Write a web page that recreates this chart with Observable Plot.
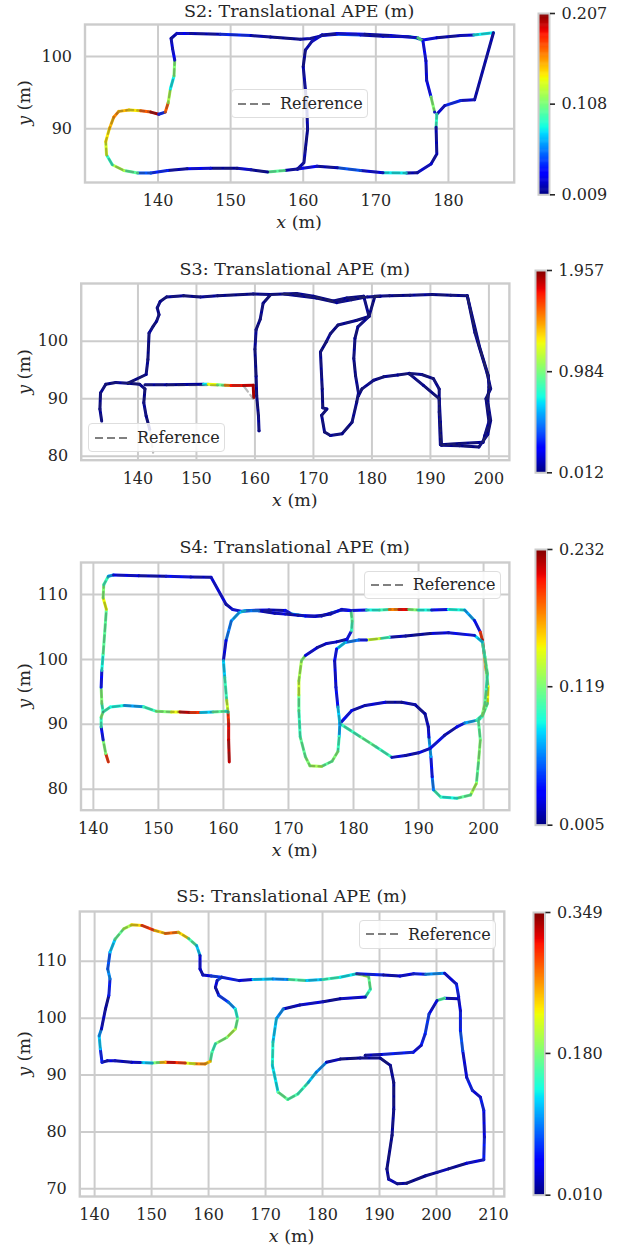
<!DOCTYPE html>
<html><head><meta charset="utf-8">
<script src="https://cdn.jsdelivr.net/npm/d3@7"></script>
<script src="https://cdn.jsdelivr.net/npm/@observablehq/plot@0.6"></script>
<style>
body{margin:0;background:#fff;}
#root{position:relative;width:622px;height:1251px;overflow:hidden;font-family:'DejaVu Serif',serif;color:#262626;background:#fff;}
.ov{position:absolute;white-space:nowrap;transform:translate(-50%,-50%);line-height:1;}
.ttl{font-size:17.5px;}
.axl{font-size:17.5px;}
.leg{position:absolute;box-sizing:border-box;border:1px solid #dedede;border-radius:4px;background:rgba(255,255,255,0.85);font-size:16px;display:flex;align-items:center;}
.leg svg{margin-left:6px;margin-right:9px;}
</style></head><body><div id="root"></div><script>
// ---------- data: trajectories [x, y, APE] ----------
const s2Path = [[159.2,84.4,0.018],[157.4,84.2,0.10],[155.1,84.0,0.013],[152.8,84.3,0.025],[150.9,84.5,0.013],[147.2,84.5,0.03],[144.0,84.45,0.018],[141.3,84.2,0.04],[139.0,83.86,0.05],[137.2,83.86,0.10],[135.3,84.2,0.12],[133.7,85.0,0.09],[132.9,86.4,0.13],[132.8,88.2,0.14],[133.3,90.0,0.15],[133.9,91.6,0.16],[134.6,92.4,0.15],[136.0,92.6,0.14],[137.6,92.5,0.17],[139.0,92.3,0.2],[140.1,92.0,0.04],[141.0,92.3,0.17],[141.4,93.6,0.12],[141.7,95.5,0.08],[142.2,97.3,0.11],[142.3,99.5,0.03],[142.0,101.1,0.025],[141.8,102.5,0.018],[142.6,103.2,0.03],[144.5,103.2,0.018],[148.6,103.1,0.04],[152.8,102.9,0.018],[155.5,102.7,0.013],[159.6,102.4,0.018],[161.0,102.5,0.018],[162.6,102.9,0.025],[164.7,103.1,0.05],[167.9,103.0,0.018],[171.0,102.8,0.03],[174.7,102.75,0.09],[175.8,102.5,0.025],[176.5,102.3,0.03],[178.4,102.6,0.018],[181.7,102.9,0.025],[183.5,103.0,0.08],[186.2,103.3,0.018],[183.6,94.0,0.025],[181.7,93.9,0.04],[179.5,93.2,0.025],[178.4,92.0,0.09],[178.3,90.2,0.018],[178.4,86.5,0.018],[177.6,85.1,0.025],[175.7,83.9,0.018],[174.2,83.85,0.08],[171.0,83.9,0.025],[167.9,84.2,0.05],[164.7,84.6,0.018],[161.9,84.8,0.03],[159.2,84.4,0.018],[160.1,85.3,0.018],[160.3,87.2,0.013],[160.6,89.9,0.018],[160.5,92.7,0.013],[160.3,95.4,0.018],[160.0,98.6,0.013],[160.3,100.9,0.018],[161.2,102.1,0.025],[162.6,103.0,0.018],[164.7,103.2,0.03],[168.5,103.1,0.018],[172.0,102.9,0.025],[175.8,102.6,0.1],[176.5,102.1,0.03],[176.9,99.4,0.025],[177.0,96.7,0.03],[177.6,94.4,0.11],[178.1,92.3,0.03]];

const s3Hook = [[133.8,86.1,0.05],[133.5,88.2,0.03],[133.6,91.0,0.05],[134.5,92.5,0.03],[136.2,92.8,0.06],[138.3,92.7,0.03],[140.3,92.5,0.05],[141.2,91.7,0.03],[141.0,89.3,0.06],[141.4,87.0,0.03],[142.0,84.7,0.08]];
const s3Main = [[138.3,92.7,0.03],[141.4,94.2,0.05],[141.7,96.8,0.03],[141.9,101.4,0.06],[142.6,102.6,0.03],[143.2,103.5,0.05],[143.6,104.6,0.03],[143.3,105.8,0.06],[143.8,106.9,0.03],[144.9,107.7,0.05],[147.8,107.9,0.03],[150.7,107.7,0.06],[153.6,107.9,0.03],[159.7,108.2,0.05],[162.6,108.1,0.03],[167.1,108.3,0.06],[170.0,107.8,0.03],[173.4,107.0,0.05],[175.7,107.5,0.03],[178.6,107.8,0.06],[179.5,104.3,0.03],[177.3,103.6,0.05],[174.2,102.8,0.03],[172.9,101.3,0.06],[172.2,99.9,0.03],[171.2,98.1,0.05],[171.5,91.7,0.03],[171.6,88.4,0.06],[172.3,88.2,0.03],[171.4,87.1,0.05],[171.9,84.2,0.03],[172.9,83.6,0.06],[174.9,83.9,0.03],[176.6,85.9,0.05],[177.4,89.4,0.03],[177.7,91.0,0.06],[177.2,94.0,0.03],[176.9,97.0,0.05],[177.1,100.5,0.03],[177.6,102.5,0.06],[179.5,104.3,0.03],[180.5,107.8,0.05],[183.0,107.9,0.03],[186.5,108.0,0.06],[190.3,108.1,0.03],[193.5,108.0,0.05],[196.3,107.9,0.03],[197.6,101.5,0.06],[199.7,94.4,0.03],[200.3,91.7,0.05],[199.5,90.0,0.03],[200.0,86.0,0.06],[199.3,83.6,0.03],[199.0,82.4,0.05],[195.0,82.2,0.03],[191.7,82.0,0.06],[191.5,87.7,0.03],[191.5,91.7,0.05],[190.5,93.5,0.03],[188.5,94.2,0.06],[186.4,94.4,0.03],[184.4,94.1,0.05],[182.0,93.8,0.03],[180.3,93.2,0.06],[178.3,91.7,0.03],[177.7,90.5,0.05]];
const s3Right = [[196.3,107.9,0.05],[198.4,99.0,0.03],[199.9,94.0,0.06],[200.0,92.0,0.03],[199.8,89.5,0.05],[200.3,86.2,0.03],[199.8,83.8,0.06],[198.3,81.6,0.03],[195.0,81.8,0.05],[191.9,81.9,0.03],[191.7,86.0,0.06],[191.5,90.0,0.03],[188.8,92.3,0.05],[186.4,94.3,0.03]];
const s3Top = [[165.0,108.2,0.05],[170.5,107.5,0.03],[174.0,106.7,0.06],[176.5,107.2,0.03],[179.2,107.7,0.05],[181.4,107.8,0.03]];
const s3Horiz = [[141.2,92.4,0.05],[144.9,92.4,0.03],[148.0,92.45,0.06],[151.2,92.5,0.7],[152.0,92.5,1.25],[153.6,92.4,0.95],[154.9,92.35,1.5],[155.9,92.3,1.75],[158.0,92.3,1.85],[159.7,92.35,1.9],[159.8,90.2,1.9]];
const s3Vert = [[162.6,108.0,0.03],[161.4,106.6,0.05],[160.9,103.8,0.03],[160.2,102.0,0.06],[160.0,98.6,0.03],[160.2,93.9,0.05],[160.3,90.5,0.03],[160.6,87.0,0.06],[160.7,84.4,0.03]];
const s3RefHoriz = [[141.2,92.4],[158.0,92.3],[159.7,90.0]];
const s3RefTail = [[142.0,84.7],[142.6,80.6]];

const s4Main = [[142.3,84.2,0.2],[141.9,85.5,0.12],[141.5,87.6,0.035],[141.2,89.6,0.1],[141.2,91.1,0.12],[141.5,91.9,0.1],[141.3,93.2,0.12],[141.2,95.7,0.035],[141.3,98.3,0.09],[141.5,100.8,0.11],[141.8,104.9,0.11],[142.0,107.7,0.15],[141.5,109.5,0.12],[141.6,111.5,0.1],[142.3,112.8,0.07],[143.1,113.0,0.025],[147.0,112.9,0.018],[151.2,112.8,0.035],[155.0,112.7,0.018],[158.1,112.65,0.025],[159.4,110.3,0.025],[160.4,108.5,0.018],[161.4,107.7,0.035],[162.9,107.4,0.018],[164.2,107.55,0.025],[167.0,107.6,0.018],[169.5,107.55,0.035],[170.5,107.0,0.08],[172.6,106.7,0.025],[175.1,106.7,0.018],[176.7,107.2,0.06],[178.2,107.6,0.025],[179.6,107.55,0.035],[182.0,107.6,0.09],[184.0,107.6,0.1],[185.5,107.7,0.18],[187.0,107.7,0.21],[188.5,107.7,0.12],[190.0,107.6,0.09],[192.0,107.6,0.035],[194.6,107.7,0.09],[197.1,107.6,0.07],[198.6,106.0,0.035],[199.5,104.2,0.2],[199.8,103.0,0.22],[200.1,100.9,0.18],[200.4,98.3,0.12],[200.7,95.8,0.15],[200.6,93.2,0.11],[199.8,91.2,0.1],[199.2,90.6,0.11],[199.5,87.6,0.12],[199.2,84.0,0.11],[198.9,80.9,0.13],[198.0,79.1,0.11],[195.9,78.6,0.09],[193.4,78.8,0.1],[192.3,79.9,0.06],[192.1,81.9,0.035],[191.9,85.0,0.07],[191.6,88.0,0.025],[191.5,89.6,0.018],[191.0,91.6,0.012],[189.5,93.0,0.018],[187.4,93.4,0.012],[184.9,93.4,0.025],[181.8,92.9,0.018],[179.7,92.1,0.035],[177.9,90.1,0.1],[181.0,88.1,0.11],[183.5,86.5,0.1],[185.9,84.9,0.025],[188.0,85.2,0.018],[190.0,85.6,0.025],[191.8,86.3,0.035],[194.0,88.3,0.018],[195.9,89.6,0.035],[197.1,90.2,0.07],[198.9,90.6,0.1],[199.8,91.4,0.12],[200.2,93.2,0.11],[200.4,95.3,0.1],[200.6,97.8,0.11],[200.2,100.4,0.1],[199.8,102.7,0.08],[198.6,103.7,0.035],[194.6,104.1,0.025],[191.8,104.0,0.012],[188.0,103.6,0.018],[185.5,103.4,0.1],[184.0,103.2,0.14],[182.0,103.0,0.035],[180.8,103.0,0.06],[178.7,102.6,0.08],[177.4,101.6,0.035],[177.1,99.8,0.025],[177.3,95.7,0.035],[177.6,92.65,0.08],[177.9,90.1,0.07],[177.8,88.1,0.1],[177.6,85.8,0.12],[176.7,84.3,0.11],[175.1,83.5,0.13],[173.3,83.6,0.12],[172.6,85.0,0.11],[171.8,88.1,0.1],[171.6,92.1,0.11],[171.6,94.5,0.14],[171.6,96.7,0.13],[172.0,99.8,0.12],[172.6,100.6,0.025],[174.4,101.8,0.018],[175.9,102.45,0.025],[177.4,102.7,0.018],[179.0,103.1,0.035],[179.7,104.4,0.1],[179.8,105.9,0.11],[179.6,107.55,0.035],[178.2,107.7,0.025],[176.5,107.0,0.018],[174.0,106.6,0.025],[171.5,106.8,0.018],[169.5,107.0,0.025],[167.9,107.1,0.018],[165.4,107.5,0.06],[163.3,107.5,0.08],[162.4,107.2,0.07],[161.2,105.9,0.06],[160.4,102.9,0.025],[160.0,99.8,0.08],[160.2,97.2,0.1],[160.5,93.7,0.14],[160.7,91.9,0.2],[160.8,90.1,0.21],[160.8,87.6,0.22],[160.9,84.2,0.22]];
const s4Horiz = [[141.5,91.9,0.1],[142.6,92.65,0.09],[144.8,92.9,0.07],[147.7,92.7,0.1],[149.7,92.0,0.12],[152.0,91.9,0.15],[153.3,91.9,0.22],[155.0,91.8,0.2],[156.5,91.8,0.08],[158.4,91.9,0.11],[160.4,92.0,0.09],[160.7,91.9,0.1]];

const s5Loop = [[162.3,107.2,0.08],[161.5,106.6,0.04],[161.2,105.4,0.03],[161.8,104.0,0.07],[163.5,102.8,0.1],[164.7,101.6,0.14],[165.1,99.9,0.17],[164.7,98.1,0.2],[163.2,96.6,0.18],[161.2,95.5,0.15],[160.6,94.0,0.16],[160.3,92.4,0.25],[159.4,91.95,0.27],[157.5,92.0,0.22],[155.9,92.1,0.3],[154.0,92.2,0.32],[152.4,92.25,0.25],[151.2,92.2,0.18],[150.1,92.1,0.12],[148.0,92.2,0.04],[146.5,92.25,0.03],[143.6,92.5,0.04],[142.2,92.5,0.03],[141.3,92.25,0.06],[141.0,94.6,0.12],[140.8,96.9,0.1],[141.2,98.1,0.03],[141.9,101.6,0.02],[142.5,104.0,0.06],[142.7,106.9,0.1],[142.3,108.65,0.08],[142.7,111.6,0.12],[143.6,113.9,0.17],[145.1,115.7,0.2],[146.5,116.4,0.24],[148.3,116.3,0.3],[150.6,115.4,0.25],[152.4,114.9,0.28],[154.7,115.1,0.24],[156.5,114.0,0.16],[157.9,112.75,0.12],[158.5,111.0,0.04],[158.5,108.65,0.03],[159.0,107.6,0.04],[160.5,107.4,0.07],[162.3,107.2,0.08]];
const s5Main = [[162.3,107.2,0.06],[165.4,106.6,0.04],[167.8,106.8,0.12],[171.3,106.9,0.1],[174.2,106.8,0.16],[177.2,106.6,0.12],[180.1,106.8,0.15],[183.1,107.2,0.13],[186.0,107.8,0.2],[188.1,107.3,0.17],[188.4,105.1,0.15],[187.5,103.7,0.04],[183.1,103.4,0.02],[180.1,102.9,0.04],[176.0,102.3,0.03],[173.1,101.6,0.1],[171.9,99.9,0.12],[171.3,95.8,0.14],[171.2,91.7,0.13],[172.2,87.0,0.17],[173.9,85.7,0.16],[175.7,86.7,0.15],[177.5,88.7,0.12],[178.9,90.5,0.1],[180.7,92.25,0.03],[183.1,92.8,0.015],[186.6,93.0,0.02],[190.1,93.0,0.015],[191.9,91.7,0.02],[192.5,88.7,0.015],[192.5,84.0,0.02],[192.2,79.4,0.015],[191.3,73.5,0.02],[191.6,71.7,0.03],[193.1,70.9,0.02],[194.8,71.0,0.015],[198.1,72.3,0.02],[200.1,72.9,0.03],[202.1,73.5,0.02],[205.3,74.5,0.04],[208.3,75.1,0.06],[208.4,79.1,0.04],[208.3,83.8,0.06],[207.7,86.1,0.04],[206.3,87.3,0.06],[205.3,89.6,0.04],[204.6,94.3,0.08],[204.2,97.8,0.06],[204.2,101.3,0.04],[203.9,103.4,0.03],[201.4,103.5,0.16],[200.1,103.1,0.04],[198.7,100.75,0.07],[198.0,97.2,0.06],[197.3,95.2,0.04],[195.9,94.0,0.06],[190.3,93.6,0.03],[187.5,93.5,0.02]];
const s5Top = [[186.0,107.8,0.06],[190.7,107.6,0.03],[193.6,107.4,0.04],[196.0,107.8,0.06],[198.1,107.7,0.1],[201.4,107.9,0.04],[203.5,106.0,0.06],[203.9,103.7,0.04]];

// ---------- ticks and colorbar labels ----------
const s2XTicks = [140,150,160,170,180], s2YTicks = [90,100];
const s3XTicks = [140,150,160,170,180,190,200], s3YTicks = [80,90,100];
const s4XTicks = [140,150,160,170,180,190,200], s4YTicks = [80,90,100,110];
const s5XTicks = [140,150,160,170,180,190,200,210], s5YTicks = [70,80,90,100,110];
const s2Cb = ["0.009","0.108","0.207"];
const s3Cb = ["0.012","0.984","1.957"];
const s4Cb = ["0.005","0.119","0.232"];
const s5Cb = ["0.010","0.180","0.349"];
const titles = ["S2: Translational APE (m)","S3: Translational APE (m)","S4: Translational APE (m)","S5: Translational APE (m)"];

// ---------- jet colormap ----------
function jet(t){
  t = Math.max(0, Math.min(1, t));
  const pw = (pts) => { for (let i = 1; i < pts.length; i++) { if (t <= pts[i][0]) { const [a0,v0] = pts[i-1], [a1,v1] = pts[i]; return v0 + (v1 - v0) * (t - a0) / (a1 - a0); } } return pts[pts.length-1][1]; };
  const r = pw([[0,0],[0.35,0],[0.66,1],[0.89,1],[1,0.5]]);
  const g = pw([[0,0],[0.125,0],[0.375,1],[0.64,1],[0.91,0],[1,0]]);
  const b = pw([[0,0.5],[0.11,1],[0.34,1],[0.65,0],[1,0]]);
  return `rgb(${Math.round(r*255)},${Math.round(g*255)},${Math.round(b*255)})`;
}

// ---------- layout ----------
const panels = [
  {segs:[s2Path], refs:[s2Path], xt:s2XTicks, yt:s2YTicks, cb:s2Cb, xd:[129.94,189.06], yd:[82.54,104.44],
   f:[84.5,513.7,24,182], cbb:[538,549,12.7,194], ty:11.7, leg:[231,89.3]},
  {segs:[s3Hook,s3Main,s3Right,s3Top,s3Horiz,s3Vert], refs:[s3Hook,s3Main,s3Right,s3Top,s3Vert,s3RefHoriz,s3RefTail], xt:s3XTicks, yt:s3YTicks, cb:s3Cb, xd:[130.3,203.5], yd:[79.3,110.03],
   f:[80.7,508.9,283.3,460], cbb:[535,546,270,472.3], ty:270, leg:[88,423.3]},
  {segs:[s4Main,s4Horiz], refs:[s4Main,s4Horiz], xt:s4XTicks, yt:s4YTicks, cb:s4Cb, xd:[138.1,203.97], yd:[76.76,114.93],
   f:[80.5,508.9,562.3,810], cbb:[535,546.5,549.3,825], ty:548.3, leg:[363.7,570.7]},
  {segs:[s5Loop,s5Main,s5Top], refs:[s5Loop,s5Main,s5Top], xt:s5XTicks, yt:s5YTicks, cb:s5Cb, xd:[137.4,211.9], yd:[68.65,118.75],
   f:[79.3,503.8,911,1196], cbb:[533,544.5,912.3,1195], ty:896.7, leg:[359,920]}
];

const root = document.getElementById("root");
const baseStyle = {background:"transparent", fontFamily:"'DejaVu Serif', serif", fontSize:"16px", color:"#262626", overflow:"visible"};

function addDiv(cls, html, x, y, extra){
  const d = document.createElement("div");
  d.className = cls; d.innerHTML = html;
  d.style.left = x + "px"; d.style.top = y + "px";
  if (extra) Object.assign(d.style, extra);
  root.appendChild(d);
  return d;
}

panels.forEach((p, i) => {
  const [fx0, fx1, fy0, fy1] = p.f;
  const cbv = p.cb.map(Number);
  const color = {type:"linear", domain:[cbv[0], cbv[2]], interpolate: jet};
  const rows = p.segs.flatMap((s,k) => s.map(q => ({x:q[0], y:q[1], e:q[2], k})));
  const refRows = p.refs.flatMap((s,k) => s.map(q => ({x:q[0], y:q[1], k})));
  const mt = 6, mb = 56;
  const svg = Plot.plot({
    width:622, height: mt + (fy1 - fy0) + mb,
    marginLeft: fx0, marginRight: 622 - fx1, marginTop: mt, marginBottom: mb,
    style: baseStyle,
    x: {domain: p.xd, label: null},
    y: {domain: p.yd, label: null},
    color,
    marks: [
      Plot.gridX({ticks: p.xt, stroke:"#cccccc", strokeOpacity:1, strokeWidth:2}),
      Plot.gridY({ticks: p.yt, stroke:"#cccccc", strokeOpacity:1, strokeWidth:2}),
      Plot.frame({stroke:"#cccccc", strokeWidth:2.4}),
      Plot.axisX({ticks: p.xt, tickSize:0, tickPadding:12, label:null, fontSize:16}),
      Plot.axisY({ticks: p.yt, tickSize:0, tickPadding:13, label:null, fontSize:16}),
      Plot.line(rows, {x:"x", y:"y", z:"k", stroke:"e", strokeWidth:3}),
      Plot.line(refRows, {x:"x", y:"y", z:"k", stroke:"#3c3c3c", strokeOpacity:0.35, strokeWidth:2.2, strokeDasharray:"7,4"})
    ]
  });
  svg.style.position = "absolute"; svg.style.left = "0px"; svg.style.top = (fy0 - mt) + "px";
  root.appendChild(svg);

  // colorbar
  const [cx0, cx1, cy0, cy1] = p.cbb;
  const steps = d3.range(0, 1, 1/200).map(t => ({a: cbv[0] + (cbv[2]-cbv[0]) * t, b: cbv[0] + (cbv[2]-cbv[0]) * Math.min(1, t + 1.6/200)}));
  const cbsvg = Plot.plot({
    width:622, height: (cy1 - cy0) + 20,
    marginLeft: cx0, marginRight: 622 - cx1, marginTop: 10, marginBottom: 10,
    style: baseStyle,
    x: {domain:[0,1], axis:null},
    y: {domain:[cbv[0], cbv[2]], axis:null},
    color,
    marks: [
      Plot.rect(steps, {x1:0, x2:1, y1:"a", y2:"b", fill: d => (d.a + d.b) / 2}),
      Plot.frame({stroke:"#cccccc", strokeWidth:2}),
      Plot.axisY({ticks: cbv, anchor:"right", tickSize:5, tickPadding:7, label:null, stroke:"#262626", strokeWidth:1.6,
                  tickFormat: d => p.cb[cbv.indexOf(d)], fontSize:16})
    ]
  });
  cbsvg.style.position = "absolute"; cbsvg.style.left = "0px"; cbsvg.style.top = (cy0 - 10) + "px";
  root.appendChild(cbsvg);

  const cxm = (fx0 + fx1) / 2, cym = (fy0 + fy1) / 2;
  addDiv("ov ttl", titles[i], cxm, p.ty);
  addDiv("ov axl", "<i>x</i> (m)", cxm, fy1 + 41);
  addDiv("ov axl", "<i>y</i> (m)", 25, cym, {transform:"translate(-50%,-50%) rotate(-90deg)"});
  const lg = document.createElement("div");
  lg.className = "leg";
  lg.style.left = p.leg[0] + "px"; lg.style.top = p.leg[1] + "px";
  lg.style.width = "137px"; lg.style.height = "28.5px";
  lg.innerHTML = '<svg width="33" height="6"><line x1="0" y1="3" x2="33" y2="3" stroke="#808080" stroke-width="2.2" stroke-dasharray="8,4"/></svg><span>Reference</span>';
  root.appendChild(lg);
});
</script></body></html>
